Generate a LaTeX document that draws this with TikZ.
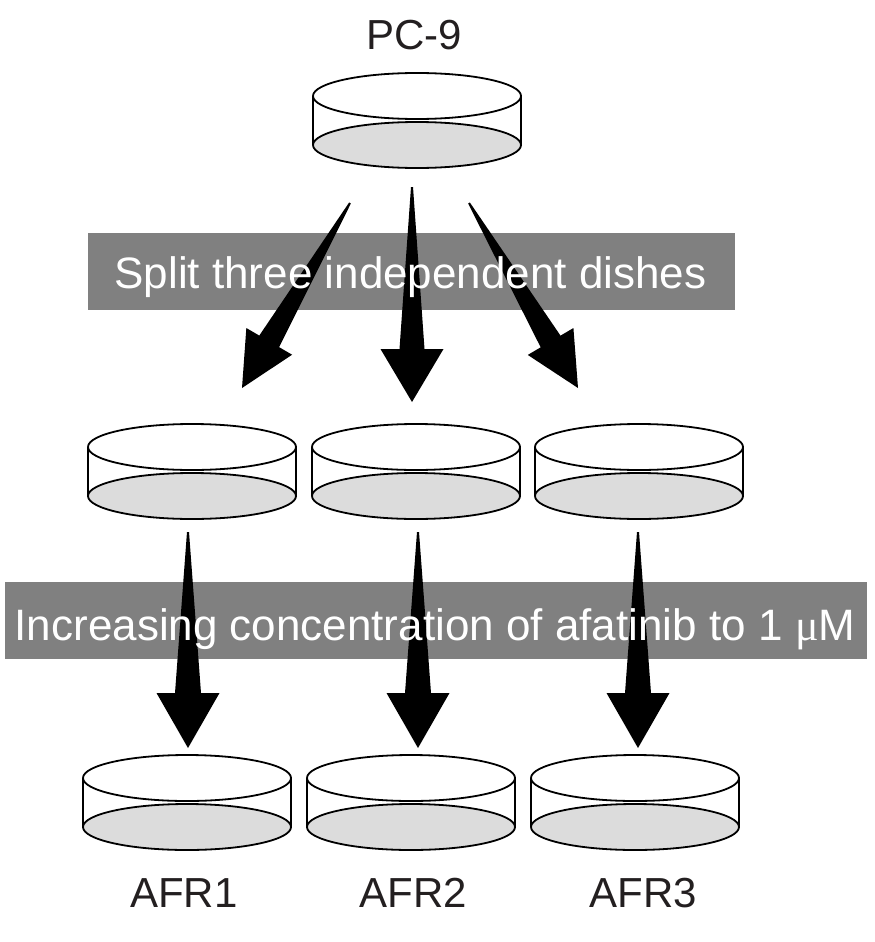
\documentclass[tikz,border=0pt]{standalone}
\usepackage{fontspec}
\setmainfont{Liberation Sans}
\newfontfamily\mufont{Liberation Serif}
\usetikzlibrary{calc}
\usepackage{xcolor}

\definecolor{bannergray}{RGB}{128,128,128}
\definecolor{dishgray}{RGB}{220,220,220}
\definecolor{labeltext}{RGB}{35,31,32}

\tikzset{
	dishline/.style={line width=1.8pt},
	pics/dish/.style={code={
		\draw [dishline, fill=dishgray] (0,49) circle [x radius=104pt, y radius=23pt];
		\draw [dishline] (-104,0) -- (-104,49);
		\draw [dishline] (104,0) -- (104,49);
		\draw [dishline, fill=white] (0,0) circle [x radius=104pt, y radius=23pt];
	}}
}

% tail, tip, shaft half width, head half width, head length
\newcommand{\taperarrow}[5]{
	\coordinate (hb) at ($(#2)!#5!(#1)$);
	\fill ($(#1)!1pt!90:(#2)$) -- ($(hb)!#3!90:(#2)$) -- ($(hb)!#4!90:(#2)$) -- (#2)
		-- ($(hb)!#4!-90:(#2)$) -- ($(hb)!#3!-90:(#2)$) -- ($(#1)!1pt!-90:(#2)$) -- cycle;
}

\begin{document}
\begin{tikzpicture}[x=1pt, y=-1pt,
	dishname/.style={font=\fontsize{42}{50}\selectfont, text=labeltext, anchor=base},
	banner/.style={fill=bannergray, inner sep=0pt},
	bannertext/.style={font=\fontsize{44}{52}\selectfont, text=white, anchor=base}]

	\useasboundingbox (0,0) rectangle (875,942);

	\node [dishname] (pc9) at (414,50) {PC-9};
	\pic at (417,96) {dish};

	\pic at (192,447) {dish};
	\pic at (416,447) {dish};
	\pic at (639,447) {dish};

	\pic at (187,778) {dish};
	\pic at (411,778) {dish};
	\pic at (635,778) {dish};

	\node [dishname] (afr1) at (184,907) {AFR1};
	\node [dishname] (afr2) at (413,907) {AFR2};
	\node [dishname] (afr3) at (643,907) {AFR3};

	\node [banner, minimum width=647pt, minimum height=77pt] (split) at (411.5,271.5) {};
	\node [banner, minimum width=862pt, minimum height=77pt] (dose) at (436,620.5) {};

	\coordinate (split1) at (350,203);
	\coordinate (split2) at (412,187);
	\coordinate (split3) at (469,203);
	\coordinate (tip1) at (242,388);
	\coordinate (tip2) at (412,402);
	\coordinate (tip3) at (578,388);

	\taperarrow{split1}{tip1}{11.5pt}{26.5pt}{54pt}
	\taperarrow{split2}{tip2}{12.5pt}{31.5pt}{53pt}
	\taperarrow{split3}{tip3}{11.5pt}{26.5pt}{54pt}

	\coordinate (dose1) at (188,532);
	\coordinate (dose2) at (418,532);
	\coordinate (dose3) at (638,532);
	\coordinate (afrtip1) at (188,748);
	\coordinate (afrtip2) at (418,748);
	\coordinate (afrtip3) at (638,748);

	\taperarrow{dose1}{afrtip1}{13pt}{31.5pt}{55pt}
	\taperarrow{dose2}{afrtip2}{13pt}{31.5pt}{55pt}
	\taperarrow{dose3}{afrtip3}{13pt}{31.5pt}{55pt}

	\node [bannertext] (splittext) at (410.5,288) {Split three independent dishes};
	\node [bannertext] (dosetext) at (435,640) {Increasing concentration of afatinib to 1 {\mufont μ}M};
\end{tikzpicture}
\end{document}
